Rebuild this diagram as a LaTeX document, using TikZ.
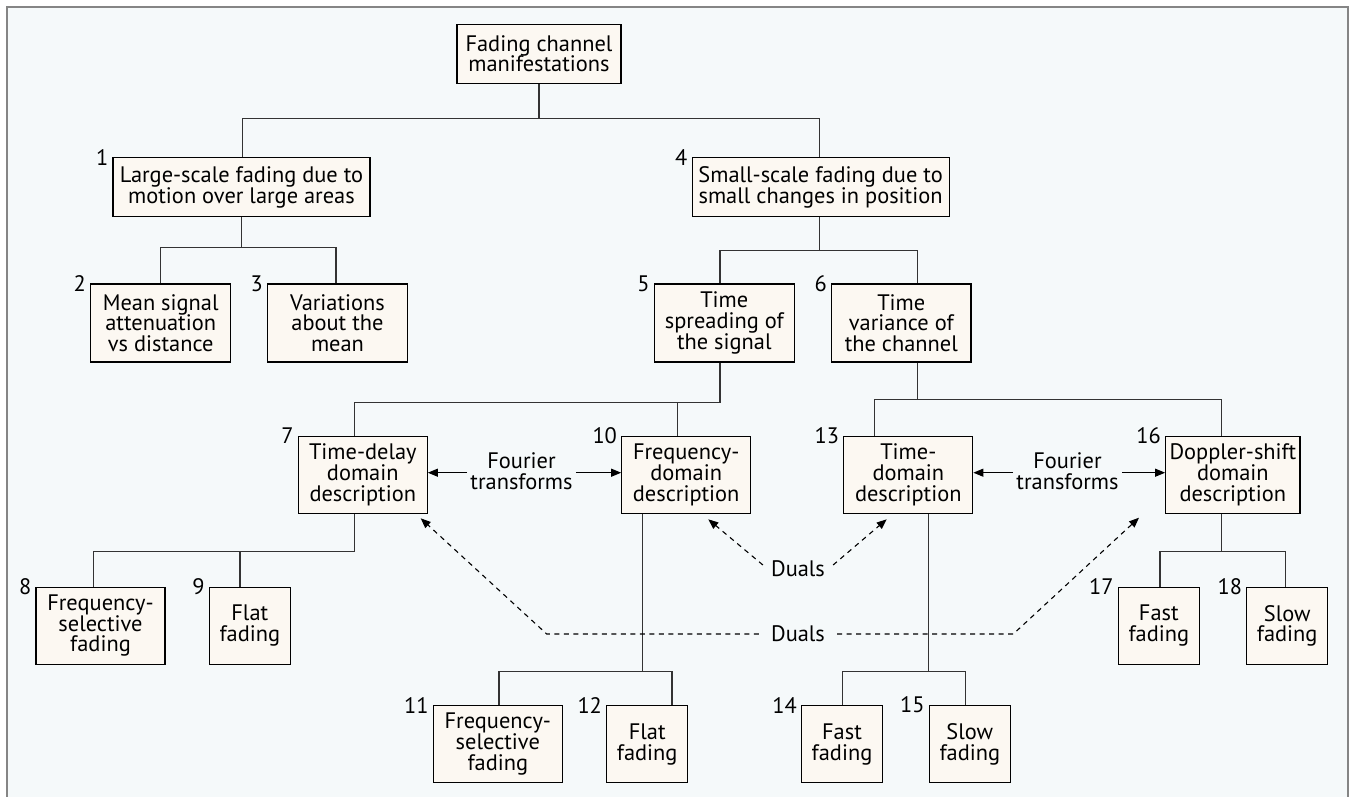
\documentclass[tikz,border=0pt]{standalone}
\usepackage{fontspec}
\setmainfont{PT Sans}
\usetikzlibrary{arrows.meta}
\definecolor{bgc}{HTML}{F5F9FA}
\definecolor{boxc}{HTML}{FCF8F2}
\definecolor{framec}{HTML}{858585}
\definecolor{linec}{HTML}{333333}
\newcommand{\dfont}{\fontsize{22.4}{20.7}\selectfont}
\begin{document}
\begin{tikzpicture}[x=1pt,y=-1pt,
  fbox/.style={draw=black, fill=boxc, line width=1.1pt, align=center, inner sep=0pt, font=\dfont},
  wide/.style={minimum width=257pt, minimum height=59pt},
  mid/.style={minimum width=129pt, minimum height=77pt},
  nar/.style={minimum width=81pt, minimum height=77pt},
  num/.style={anchor=east, inner sep=0pt, font=\dfont, xshift=-4pt},
  lbl/.style={inner sep=3pt, align=center, font=\dfont},
  conn/.style={draw=linec, line width=1.2pt},
  farr/.style={draw=black, line width=1.1pt, -{Triangle[length=10pt,width=8pt]}},
  darr/.style={draw=black, line width=1.1pt, dash pattern=on 5pt off 4.5pt, -{Triangle[length=10pt,width=8pt]}}]
\useasboundingbox (0,0) rectangle (1349,797);
\fill[white] (0,0) rectangle (1349,797);
\fill[bgc] (7.3,6.7) rectangle (1347.7,797);
\draw[framec, line width=2pt] (7.3,797) -- (7.3,6.7) -- (1347.7,6.7) -- (1347.7,797);

% boxes
\node[fbox, minimum width=164pt, minimum height=59pt] (root) at (539,53.8) {Fading channel\\manifestations};
\node[fbox, wide] (b1) at (241.5,187.4) {Large-scale fading due to\\motion over large areas};
\node[fbox, wide] (b4) at (820.6,187.4) {Small-scale fading due to\\small changes in position};
\node[fbox, minimum width=140pt, minimum height=78pt] (b2) at (160.7,323) {Mean signal\\attenuation\\vs distance};
\node[fbox, minimum width=139.6pt, minimum height=78pt] (b3) at (337.5,323) {Variations\\about the\\mean};
\node[fbox, minimum width=140pt, minimum height=78pt] (b5) at (724.3,323) {Time\\spreading of\\the signal};
\node[fbox, minimum width=139.3pt, minimum height=78pt] (b6) at (901.3,323) {Time\\variance of\\the channel};
\node[fbox, mid] (b7) at (362.8,474.8) {Time-delay\\domain\\description};
\node[fbox, mid] (b10) at (686.2,474.8) {Frequency-\\domain\\description};
\node[fbox, mid] (b13) at (908.3,474.8) {Time-\\domain\\description};
\node[fbox, minimum width=134.3pt, minimum height=77pt] (b16) at (1232.8,474.8) {Doppler-shift\\domain\\description};
\node[fbox, mid] (b8) at (100.5,625.8) {Frequency-\\selective\\fading};
\node[fbox, nar] (b9) at (249.8,625.8) {Flat\\fading};
\node[fbox, nar] (b17) at (1158.8,625.8) {Fast\\fading};
\node[fbox, nar] (b18) at (1287.2,625.8) {Slow\\fading};
\node[fbox, mid] (b11) at (497.8,744.2) {Frequency-\\selective\\fading};
\node[fbox, nar] (b12) at (647.2,744.2) {Flat\\fading};
\node[fbox, nar] (b14) at (842,744.2) {Fast\\fading};
\node[fbox, nar] (b15) at (969.8,744.2) {Slow\\fading};

% numbers
\foreach \b/\n in {b1/1,b2/2,b3/3,b4/4,b5/5,b6/6,b7/7,b8/8,b9/9,b10/10,b11/11,b12/12,b13/13,b14/14,b15/15,b16/16,b17/17,b18/18}
  \node[num] (n\n) at (\b.north west) {\n};

% tree connectors
\draw[conn] (root.south) -- ++(0,34.5) -| ([xshift=0.8pt]b1.north);
\draw[conn] (root.south) ++(0,34.5) -| ([xshift=-1.5pt]b4.north);
\draw[conn] (b1.south) -- ++(0,30.3) -| ([xshift=-0.4pt]b2.north);
\draw[conn] (b1.south) ++(0,30.3) -| ([xshift=-1.5pt]b3.north);
\draw[conn] ([xshift=-1.5pt]b4.south) -- ++(0,33.3) -| ([xshift=-4.3pt]b5.north);
\draw[conn] ([xshift=-1.5pt]b4.south) ++(0,33.3) -| ([xshift=16pt]b6.north);
\draw[conn] ([xshift=-4.3pt]b5.south) -- ++(0,40) -| ([xshift=-8pt]b7.north);
\draw[conn] ([xshift=-4.3pt]b5.south) ++(0,40) -| ([xshift=-8.5pt]b10.north);
\draw[conn] ([xshift=16pt]b6.south) -- ++(0,37.3) -| ([xshift=-33.6pt]b13.north);
\draw[conn] ([xshift=16pt]b6.south) ++(0,37.3) -| ([xshift=-11.1pt]b16.north);
\draw[conn] ([xshift=-8pt]b7.south) -- ++(0,37.7) -| ([xshift=-7.2pt]b8.north);
\draw[conn] ([xshift=-8pt]b7.south) ++(0,37.7) -| ([xshift=-9.8pt]b9.north);
\draw[conn] ([xshift=-43.5pt]b10.south) -- ++(0,157.7) -| ([xshift=1.2pt]b11.north);
\draw[conn] ([xshift=-43.5pt]b10.south) ++(0,157.7) -| ([xshift=24.8pt]b12.north);
\draw[conn] ([xshift=20pt]b13.south) -- ++(0,157.7) -| ([xshift=0.7pt]b14.north);
\draw[conn] ([xshift=20pt]b13.south) ++(0,157.7) -| ([xshift=-4.5pt]b15.north);
\draw[conn] ([xshift=-11.1pt]b16.south) -- ++(0,37.7) -| ([xshift=1.2pt]b17.north);
\draw[conn] ([xshift=-11.1pt]b16.south) ++(0,37.7) -| ([xshift=-1.5pt]b18.north);

% Fourier transforms
\node[lbl] (ft1) at (521.5,471) {Fourier\\transforms};
\node[lbl] (ft2) at (1067.5,471) {Fourier\\transforms};
\draw[farr] ([yshift=-1.7pt]ft1.west) -- ([yshift=-1.7pt]ft1.west -| b7.east);
\draw[farr] ([yshift=-1.7pt]ft1.east) -- ([yshift=-1.7pt]ft1.east -| b10.west);
\draw[farr] ([yshift=-1.7pt]ft2.west) -- ([yshift=-1.7pt]ft2.west -| b13.east);
\draw[farr] ([yshift=-1.7pt]ft2.east) -- ([yshift=-1.7pt]ft2.east -| b16.west);

% Duals
\node[lbl, inner xsep=8pt] (du1) at (798,569) {Duals};
\node[lbl, inner xsep=12pt] (du2) at (798,634) {Duals};
\coordinate (t10) at (708.3,519.3);
\coordinate (t13) at (886.7,519.3);
\coordinate (t7) at (420.7,518.3);
\coordinate (t16) at (1139,517.7);
\coordinate (k1) at (546.7,634);
\coordinate (k2) at (1013.3,634);
\draw[darr] ([yshift=4pt]du1.west) -- (t10);
\draw[darr] ([yshift=4pt]du1.east) -- (t13);
\draw[darr] (du2.west) -- (k1) -- (t7);
\draw[darr] (du2.east) -- (k2) -- (t16);
\end{tikzpicture}
\end{document}
